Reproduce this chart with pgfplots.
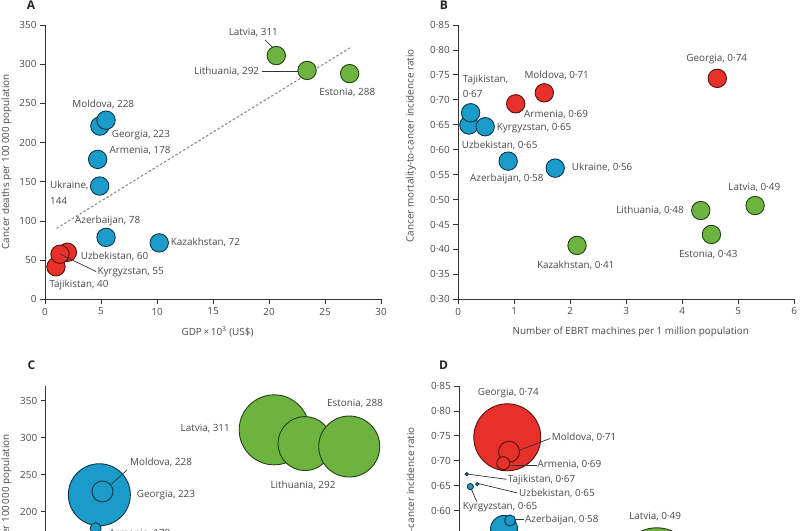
\documentclass[border=0pt]{standalone}
\usepackage{fontspec}
\setmainfont{Open Sans}
\usepackage{pgfplots}
\pgfplotsset{compat=1.18}
\definecolor{grn}{HTML}{6DB33F}
\definecolor{blu}{HTML}{1B9BC9}
\definecolor{rd}{HTML}{E8302A}
\definecolor{txt}{HTML}{4A4A4A}
\definecolor{axc}{HTML}{333333}
\colorlet{grnD}{grn!35!black}
\colorlet{bluD}{blu!35!black}
\colorlet{rdD}{rd!35!black}
\pgfplotsset{
  panel/.style={scale only axis, axis lines=left, clip=false,
    axis line style={-, draw=axc, line width=0.8pt},
    every tick/.style={draw=axc, line width=0.8pt},
    tick align=outside, major tick length=5pt,
    tick label style={font=\fontsize{9.9}{11}\selectfont, text=txt},
    /pgf/number format/assume math mode=true},
  mk/.style={only marks, mark=*, mark size=9.2pt, mark options={fill=#1, draw=#1D, line width=0.9pt}},
  bub/.style 2 args={only marks, mark=*, mark size=#2pt, mark options={fill=#1, draw=#1D, line width=0.9pt}},
}
\tikzset{lab/.style={font=\fontsize{9.9}{11}\selectfont, text=txt, inner sep=0pt},
  lead/.style={draw=axc, line width=0.7pt},
  let/.style={font=\fontsize{12}{14}\selectfont\bfseries, text=black!85, inner sep=0pt}}
\newcommand{\Lb}[4]{\node[lab,anchor=#3] at (#1,{530-#2}) {#4};}
\newcommand{\Ld}[4]{\draw[lead] (#1,{530-#2}) -- (#3,{530-#4});}
\begin{document}
\begin{tikzpicture}[x=1pt,y=1pt]
\useasboundingbox (0,0) rectangle (800,530);
\clip (0,0) rectangle (800,530);
% ---------------- A
\begin{axis}[panel, at={(45pt,230.7pt)}, anchor=south west, width=336pt, height=274.3pt,
  xmin=0, xmax=30, ymin=0, ymax=350, xtick={0,5,...,30}, ytick={0,50,...,350}]
\addplot[draw=black!45, line width=1.1pt, dash pattern=on 2.5pt off 2pt] coordinates {(1.04,90.5) (27.4,322.3)};
\addplot[mk=grn] coordinates {(20.65,311) (23.4,292) (27.2,288)};
\addplot[mk=blu] coordinates {(4.9,221) (5.45,228.5) (4.7,178.5) (4.88,144.5) (5.45,79) (10.2,72)};
\addplot[mk=rd] coordinates {(2.0,60) (0.98,41.5) (1.34,57.5)};
\end{axis}
% ---------------- B
\begin{axis}[panel, at={(458.3pt,230.7pt)}, anchor=south west, width=336pt, height=274.3pt,
  xmin=0, xmax=6, ymin=0.30, ymax=0.85, xtick={0,1,...,6},
  ytick={0.30,0.35,0.40,0.45,0.50,0.55,0.60,0.65,0.70,0.75,0.80,0.85},
  yticklabels={0·30,0·35,0·40,0·45,0·50,0·55,0·60,0·65,0·70,0·75,0·80,0·85}]
\addplot[mk=rd] coordinates {(4.625,0.743) (1.536,0.714) (1.025,0.692)};
\addplot[mk=blu] coordinates {(0.19,0.6495) (0.22,0.674) (0.48,0.646) (0.89,0.577) (1.73,0.563)};
\addplot[mk=grn] coordinates {(2.12,0.408) (4.33,0.478) (4.52,0.430) (5.30,0.488)};
\end{axis}
% ---------------- C (lower part lies below the picture's edge, as in the reference)
\begin{axis}[panel, at={(45.7pt,-130.2pt)}, anchor=south west, width=336pt, height=274.5pt,
  xmin=0, xmax=30, ymin=0, ymax=370, xtick={0,5,...,30}, xticklabels={},
  ytick={200,250,300,350}]
\addplot[bub={grn}{35}] coordinates {(20.4,310.5)};
\addplot[bub={grn}{27}] coordinates {(23.15,292)};
\addplot[bub={grn}{30.5}] coordinates {(27.1,288)};
\addplot[bub={blu}{14}] coordinates {(10.2,72)};
\addplot[bub={blu}{11.5}] coordinates {(4.88,144)};
\addplot[bub={blu}{31}] coordinates {(4.79,223)};
\addplot[bub={blu}{10.5}] coordinates {(5.07,227.5)};
\addplot[bub={blu}{5.5}] coordinates {(4.46,178)};
\addplot[bub={blu}{6}] coordinates {(5.45,78)};
\addplot[bub={rd}{3.2}] coordinates {(1.34,55)};
\addplot[bub={rd}{1.4}] coordinates {(2.0,60)};
\addplot[bub={rd}{1.5}] coordinates {(0.98,40)};
\end{axis}
% ---------------- D
\begin{axis}[panel, at={(459.3pt,-129.9pt)}, anchor=south west, width=336pt, height=273.9pt,
  xmin=0, xmax=35, ymin=0.30, ymax=0.85, xtick={0,5,...,35}, xticklabels={},
  ytick={0.60,0.65,0.70,0.75,0.80,0.85},
  yticklabels={0·60,0·65,0·70,0·75,0·80,0·85}]
\addplot[bub={rd}{33.5}] coordinates {(5.0,0.747)};
\addplot[bub={rd}{10.5}] coordinates {(5.18,0.718)};
\addplot[bub={rd}{6.5}] coordinates {(4.58,0.695)};
\addplot[bub={blu}{13.5}] coordinates {(4.66,0.563)};
\addplot[bub={blu}{5.5}] coordinates {(5.28,0.58)};
\addplot[bub={blu}{1.6}] coordinates {(0.77,0.673)};
\addplot[bub={blu}{1.6}] coordinates {(1.875,0.653)};
\addplot[bub={blu}{3.1}] coordinates {(1.15,0.648)};
\addplot[bub={grn}{37.5}] coordinates {(20.56,0.49)};
\addplot[bub={grn}{31}] coordinates {(23.4,0.48)};
\addplot[bub={grn}{32.5}] coordinates {(27.2,0.43)};
\addplot[bub={grn}{15}] coordinates {(10.2,0.41)};
\end{axis}
% ---------------- panel letters and axis titles
\node[let] at (31,525) {A};
\node[let] at (444,525) {B};
\node[let] at (31.5,{530-365.7}) {C};
\node[let] at (443.5,{530-365.7}) {D};
\node[lab,rotate=90] at (6.5,{530-161.7}) {Cancer deaths per 100\,000 population};
\node[lab,rotate=90] at (411,{530-145.8}) {Cancer mortality-to-cancer incidence ratio};
\node[lab,rotate=90,anchor=east] at (6.5,{530-434}) {Cancer deaths per 100\,000 population};
\node[lab,rotate=90,anchor=east] at (411.5,{530-427}) {Cancer mortality-to-cancer incidence ratio};
\Lb{217.5}{331.7}{center}{GDP\,×\,10\textsuperscript{3} (US\$)}
\Lb{630.8}{331.7}{center}{Number of EBRT machines per 1 million population}
% ---------------- A labels
\Ld{265}{40}{273}{48}
\Ld{261.7}{71}{298}{71}
\Ld{60}{254}{96}{271.5}
\Lb{253.3}{32.7}{center}{Latvia, 311}
\Lb{259.3}{71}{east}{Lithuania, 292}
\Lb{347.3}{92.3}{center}{Estonia, 288}
\Lb{103.3}{104}{center}{Moldova, 228}
\Lb{111.7}{135}{west}{Georgia, 223}
\Lb{109.3}{150.7}{west}{Armenia, 178}
\Lb{50}{185.7}{west}{Ukraine,}
\Lb{50}{201}{west}{144}
\Lb{107.7}{220.7}{center}{Azerbaijan, 78}
\Lb{170.7}{242.7}{west}{Kazakhstan, 72}
\Lb{80.7}{256}{west}{Uzbekistan, 60}
\Lb{97.3}{271.7}{west}{Kyrgyzstan, 55}
\Lb{49.3}{285}{west}{Tajikistan, 40}
% ---------------- B labels
\Lb{716.7}{59.3}{center}{Georgia, 0·74}
\Lb{556.7}{75.7}{center}{Moldova, 0·71}
\Lb{462.7}{80}{west}{Tajikistan,}
\Lb{462.7}{94.3}{west}{0·67}
\Lb{524}{115}{west}{Armenia, 0·69}
\Lb{496.7}{128.3}{west}{Kyrgyzstan, 0·65}
\Lb{461.7}{145.7}{west}{Uzbekistan, 0·65}
\Lb{470}{179}{west}{Azerbaijan, 0·58}
\Lb{571.7}{167.7}{west}{Ukraine, 0·56}
\Lb{754.3}{187.3}{center}{Latvia, 0·49}
\Lb{684}{210.3}{east}{Lithuania, 0·48}
\Lb{708.3}{255}{center}{Estonia, 0·43}
\Lb{575.7}{265.7}{center}{Kazakhstan, 0·41}
% ---------------- C labels
\Ld{111.7}{484}{127}{470}
\Lb{230}{429}{east}{Latvia, 311}
\Lb{355}{404}{center}{Estonia, 288}
\Lb{303}{485.7}{center}{Lithuania, 292}
\Lb{130}{462.3}{west}{Moldova, 228}
\Lb{136.7}{495}{west}{Georgia, 223}
\Lb{109}{533.5}{west}{Armenia, 178}
% ---------------- D labels
\Ld{520}{450}{550}{438.5}
\Ld{511}{465.5}{536.5}{465.5}
\Ld{466.7}{474}{506.5}{479.3}
\Ld{477.3}{483.3}{517.5}{493}
\Ld{471.5}{489.5}{476.7}{501.5}
\Ld{515}{519.5}{523.5}{519.5}
\Lb{508.3}{392.7}{center}{Georgia, 0·74}
\Lb{551.7}{437.3}{west}{Moldova, 0·71}
\Lb{537.3}{465}{west}{Armenia, 0·69}
\Lb{507.7}{479.5}{west}{Tajikistan, 0·67}
\Lb{519}{493.3}{west}{Uzbekistan, 0·65}
\Lb{462.7}{507.3}{west}{Kyrgyzstan, 0·65}
\Lb{525}{520}{west}{Azerbaijan, 0·58}
\Lb{629}{516.7}{west}{Latvia, 0·49}
\end{tikzpicture}
\end{document}
